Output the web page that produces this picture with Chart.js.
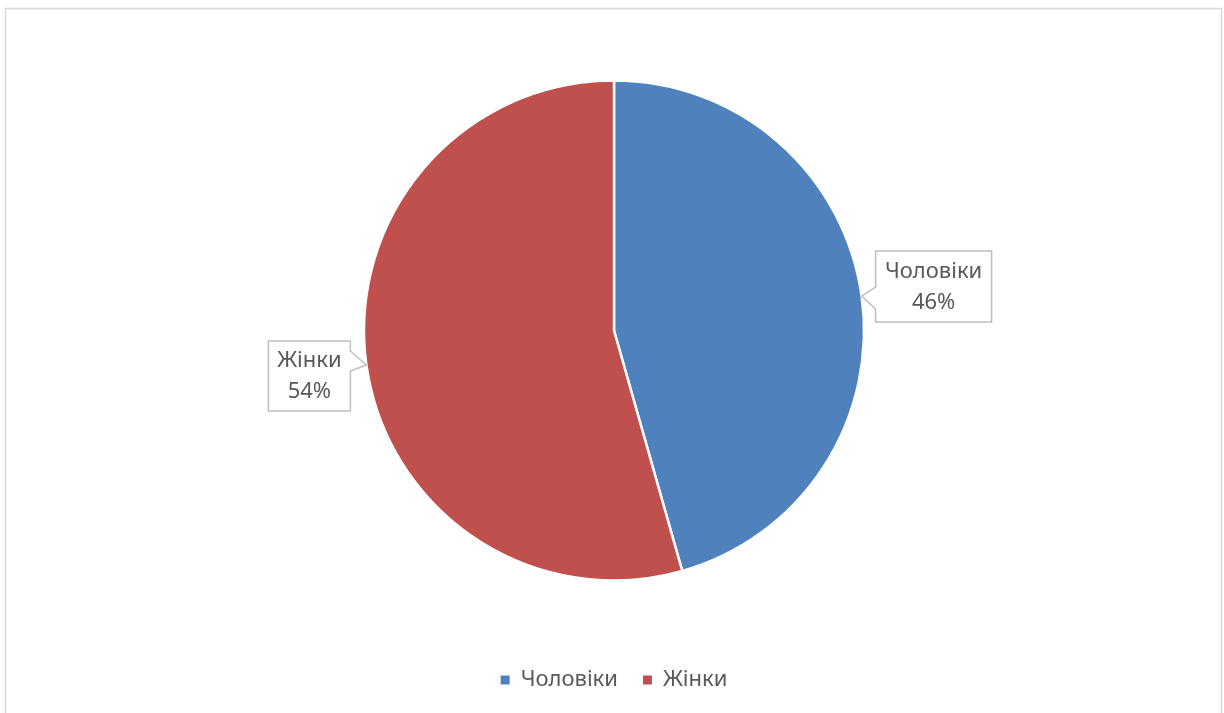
<!DOCTYPE html>
<html>
<head>
<meta charset="utf-8">
<script src="https://cdn.jsdelivr.net/npm/chart.js@4.4.1/dist/chart.umd.min.js"></script>
<style>
    html, body { margin: 0; padding: 0; background: #ffffff; }
    #wrap { position: relative; width: 1224px; height: 713px; }
</style>
</head>
<body>
<div id="wrap"><canvas id="pie" width="1224" height="713"></canvas></div>
<script>
const categories = ["Чоловіки", "Жінки"];
const shares = [45.6, 54.4];
const sliceColors = ["#4F81BD", "#C0504D"];

const textColor = "#595959";
const fontFamily = "'Noto Sans', 'Open Sans', sans-serif";
const fontSize = 22;

// callout box placement relative to the slice edge point
const callouts = [
    { dx: 14, dy: -45, w: 116, h: 71, side: "left" },
    { dx: -98, dy: -24, w: 82, h: 70, side: "right" }
];

const frameAndCallouts = {
    id: "frameAndCallouts",
    beforeDraw(chart) {
        const ctx = chart.ctx;
        ctx.save();
        ctx.strokeStyle = "#D9D9D9";
        ctx.lineWidth = 1.5;
        ctx.strokeRect(5.5, 8.5, 1216, 720);
        ctx.restore();
    },
    afterDatasetsDraw(chart) {
        const ctx = chart.ctx;
        const arcs = chart.getDatasetMeta(0).data;
        const total = shares.reduce((a, b) => a + b, 0);
        arcs.forEach((arc, i) => {
            const mid = (arc.startAngle + arc.endAngle) / 2;
            const tipX = arc.x + Math.cos(mid) * arc.outerRadius;
            const tipY = arc.y + Math.sin(mid) * arc.outerRadius;
            const c = callouts[i];
            const bx = tipX + c.dx;
            const by = tipY + c.dy;

            ctx.save();
            ctx.beginPath();
            if (c.side === "left") {
                ctx.moveTo(bx, by);
                ctx.lineTo(bx + c.w, by);
                ctx.lineTo(bx + c.w, by + c.h);
                ctx.lineTo(bx, by + c.h);
                ctx.lineTo(bx, by + 58);
                ctx.lineTo(tipX, tipY);
                ctx.lineTo(bx, by + 36);
                ctx.closePath();
            } else {
                ctx.moveTo(bx, by);
                ctx.lineTo(bx + c.w, by);
                ctx.lineTo(bx + c.w, by + 10);
                ctx.lineTo(tipX, tipY);
                ctx.lineTo(bx + c.w, by + 30);
                ctx.lineTo(bx + c.w, by + c.h);
                ctx.lineTo(bx, by + c.h);
                ctx.closePath();
            }
            ctx.fillStyle = "#ffffff";
            ctx.fill();
            ctx.strokeStyle = "#BFBFBF";
            ctx.lineWidth = 1.5;
            ctx.stroke();

            ctx.fillStyle = textColor;
            ctx.font = fontSize + "px " + fontFamily;
            ctx.textAlign = "center";
            ctx.textBaseline = "middle";
            const pct = Math.round(shares[i] / total * 100) + "%";
            ctx.fillText(categories[i], bx + c.w / 2, by + c.h / 2 - 15);
            ctx.fillText(pct, bx + c.w / 2, by + c.h / 2 + 16);
            ctx.restore();
        });
    }
};

function draw() {
    new Chart(document.getElementById("pie"), {
        type: "pie",
        data: {
            labels: categories,
            datasets: [{
                data: shares,
                backgroundColor: sliceColors,
                borderColor: "#ffffff",
                borderWidth: 2.5,
                radius: 250
            }]
        },
        options: {
            responsive: false,
            animation: false,
            layout: {
                padding: { top: 17, bottom: 12, left: 4, right: 0 }
            },
            plugins: {
                legend: {
                    position: "bottom",
                    labels: {
                        color: textColor,
                        font: { family: fontFamily, size: fontSize },
                        boxWidth: 9,
                        boxHeight: 9,
                        padding: 25,
                        generateLabels(chart) {
                            return categories.map((name, i) => ({
                                text: name,
                                fillStyle: sliceColors[i],
                                strokeStyle: sliceColors[i],
                                fontColor: textColor,
                                lineWidth: 0,
                                index: i
                            }));
                        }
                    }
                },
                tooltip: { enabled: false }
            }
        },
        plugins: [frameAndCallouts]
    });
}

document.fonts.load(fontSize + "px 'Noto Sans'").then(draw, draw);
</script>
</body>
</html>
